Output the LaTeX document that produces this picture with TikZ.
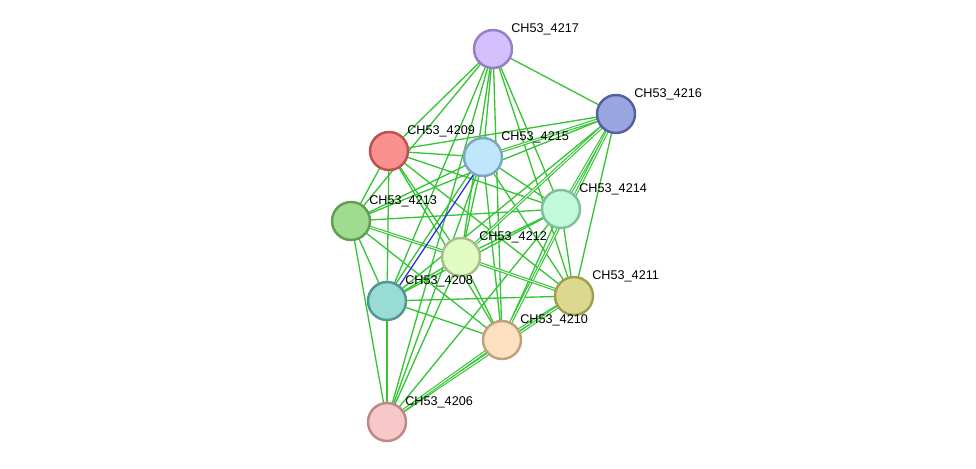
\documentclass[tikz,border=0pt]{standalone}
\usepackage{fontspec}
\setmainfont{Liberation Sans}
\usetikzlibrary{backgrounds,calc}
\definecolor{edgegreen}{RGB}{52,196,52}
\definecolor{edgeblue}{RGB}{40,40,235}
\tikzset{
    prot/.style={circle, minimum size=38*0.02cm, inner sep=0pt, line width=1.4pt},
    lab/.style={anchor=west, inner sep=0pt, font=\fontsize{7.2}{8}\selectfont},
    edge/.style={edgegreen, line width=0.75pt},
    dbl/.style={edgegreen, line width=0.65pt, double=white, double distance=0.5pt},
}
\begin{document}
\begin{tikzpicture}[x=0.02cm, y=-0.02cm]
    \useasboundingbox (0,0) rectangle (976,468);
    % proteins
    \node[prot, fill={rgb,255:red,212;green,192;blue,252}, draw={rgb,255:red,150;green,126;blue,200}] (n4217) at (493,49) {};
    \node[prot, fill={rgb,255:red,154;green,166;blue,224}, draw={rgb,255:red,84;green,96;blue,160}] (n4216) at (616,114) {};
    \node[prot, fill={rgb,255:red,251;green,144;blue,144}, draw={rgb,255:red,190;green,80;blue,80}] (n4209) at (389,151) {};
    \node[prot, fill={rgb,255:red,192;green,230;blue,251}, draw={rgb,255:red,126;green,166;blue,192}] (n4215) at (483,157) {};
    \node[prot, fill={rgb,255:red,160;green,220;blue,144}, draw={rgb,255:red,96;green,158;blue,82}] (n4213) at (351,221) {};
    \node[prot, fill={rgb,255:red,192;green,250;blue,218}, draw={rgb,255:red,126;green,192;blue,156}] (n4214) at (561,209) {};
    \node[prot, fill={rgb,255:red,224;green,252;blue,192}, draw={rgb,255:red,166;green,190;blue,140}] (n4212) at (461,257) {};
    \node[prot, fill={rgb,255:red,152;green,220;blue,212}, draw={rgb,255:red,80;green,152;blue,144}] (n4208) at (387,301) {};
    \node[prot, fill={rgb,255:red,220;green,216;blue,144}, draw={rgb,255:red,160;green,158;blue,80}] (n4211) at (574,296) {};
    \node[prot, fill={rgb,255:red,253;green,224;blue,192}, draw={rgb,255:red,190;green,160;blue,126}] (n4210) at (502,340) {};
    \node[prot, fill={rgb,255:red,248;green,200;blue,200}, draw={rgb,255:red,190;green,136;blue,136}] (n4206) at (387,422) {};
    % labels
    \foreach \p in {4217,4216,4209,4215,4213,4214,4212,4208,4211,4210,4206}
        \node[lab] (t\p) at ($(n\p)+(18,-20)$) {CH53\_\p};
    % interactions
    \begin{pgfonlayer}{background}
    \foreach \a/\b in {4217/4216,4217/4209,4217/4215,4217/4213,4217/4212,4217/4208,4217/4214,4217/4211,4217/4210,4217/4206,
        4216/4209,4216/4213,4216/4211,4216/4208,
        4209/4215,4209/4213,4209/4214,4209/4212,4209/4208,4209/4211,4209/4210,
        4215/4213,4215/4214,4215/4212,4215/4211,4215/4210,4215/4206,
        4213/4214,4213/4208,4213/4211,4213/4210,4213/4206,
        4214/4212,4214/4208,4214/4211,4214/4210,4214/4206,
        4212/4208,4212/4210,4212/4206,
        4208/4211,4208/4210,4208/4206}
        \draw[edge] (n\a.center) -- (n\b.center);
    \foreach \a/\b in {4216/4215,4216/4212,4216/4214,4216/4210,4213/4212,4212/4211,4211/4210,4211/4206,4210/4206}
        \draw[dbl] (n\a.center) -- (n\b.center);
    \draw[edge] ($(n4215.center)+(-2,-1)$) -- ($(n4208.center)+(-2,-1)$);
    \draw[edgeblue, line width=0.7pt] ($(n4215.center)+(1.5,1)$) -- ($(n4208.center)+(1.5,1)$);
    \end{pgfonlayer}
\end{tikzpicture}
\end{document}
